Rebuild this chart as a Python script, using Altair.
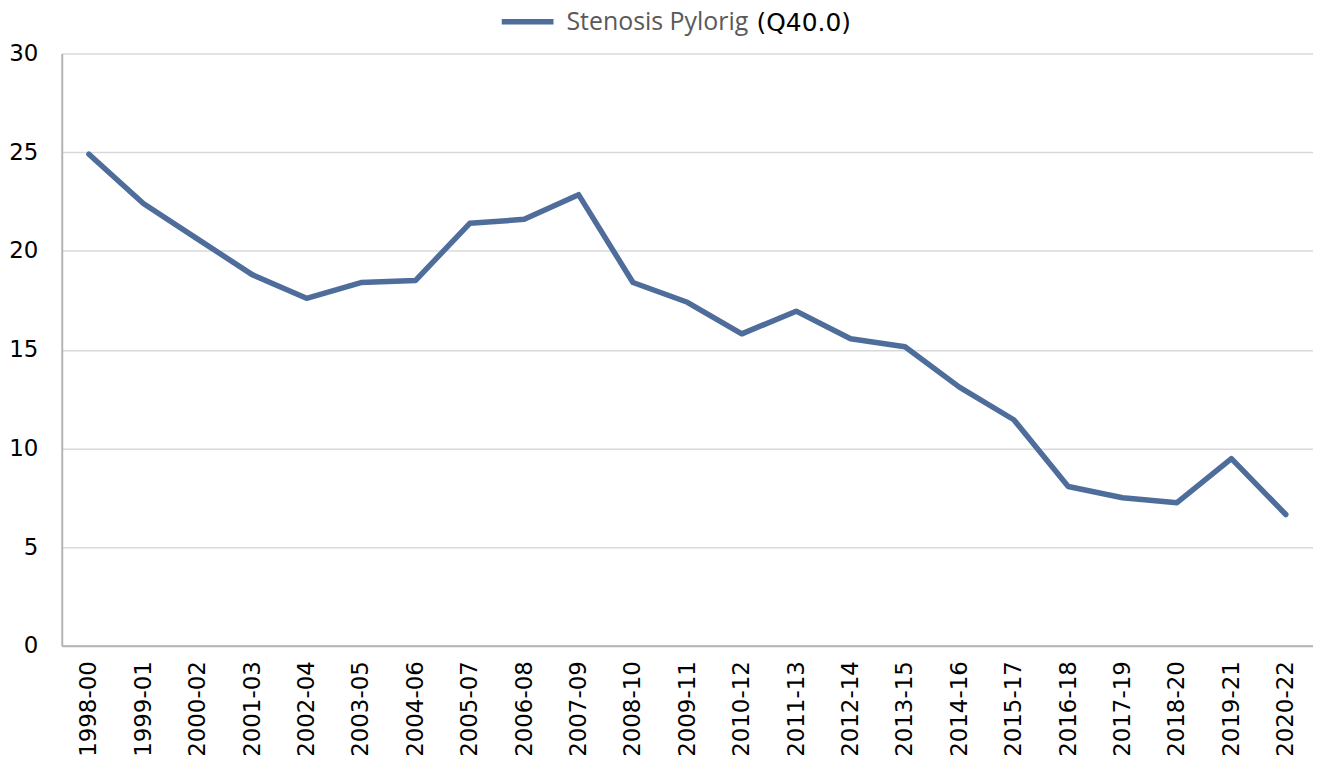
import altair as alt
import pandas as pd

periods = ["1998-00", "1999-01", "2000-02", "2001-03", "2002-04", "2003-05",
           "2004-06", "2005-07", "2006-08", "2007-09", "2008-10", "2009-11",
           "2010-12", "2011-13", "2012-14", "2013-15", "2014-16", "2015-17",
           "2016-18", "2017-19", "2018-20", "2019-21", "2020-22"]
values = [24.9, 22.4, 20.6, 18.8, 17.6, 18.4, 18.5, 21.4, 21.6, 22.85, 18.4,
          17.4, 15.8, 16.95, 15.55, 15.15, 13.1, 11.45, 8.07, 7.5, 7.25, 9.48, 6.65]
series_name = "Stenosis Pylorig"
code_label = "(Q40.0)"

df = pd.DataFrame({"period": periods, "value": values, "series": series_name})

FONT = "DejaVu Sans"
W, H = 1257, 595

line = alt.Chart(df).mark_line(strokeWidth=5.5, strokeJoin="round", strokeCap="round").encode(
    x=alt.X("period:N", sort=periods, title=None,
            scale=alt.Scale(type="point", padding=0.5),
            axis=alt.Axis(labelAngle=-90, ticks=False, labelPadding=15,
                          labelFont=FONT, labelFontSize=23, labelColor="#000000",
                          domainColor="#b3b3b3", domainWidth=2, grid=False,
                          labelBaseline="middle")),
    y=alt.Y("value:Q", title=None,
            scale=alt.Scale(domain=[0, 30], nice=False),
            axis=alt.Axis(values=[0, 5, 10, 15, 20, 25, 30], ticks=False, labelPadding=24,
                          labelFont=FONT, labelFontSize=23, labelColor="#000000",
                          domainColor="#b3b3b3", domainWidth=2,
                          gridColor="#d9d9d9", gridWidth=1.5)),
    color=alt.Color("series:N", scale=alt.Scale(range=["#4e6d9b"]),
                    legend=alt.Legend(title=None, orient="none", legendX=439, legendY=-61,
                                      symbolType="stroke", symbolSize=2704,
                                      symbolStrokeWidth=5.5, labelOffset=10,
                                      labelFont="Open Sans", labelFontSize=25,
                                      labelLimit=500,
                                      labelColor="#595959", padding=0))
)

code = alt.Chart(pd.DataFrame({"t": [code_label]})).mark_text(
    font=FONT, fontSize=25, color="#000000", align="left", baseline="middle"
).encode(x=alt.value(698), y=alt.value(-31), text="t:N")

chart = alt.layer(line, code).properties(
    width=W, height=H,
    autosize=alt.AutoSizeParams(type="none"),
    padding={"left": 54, "top": 44, "right": 0, "bottom": 111},
).configure_view(stroke=None)

chart.save("out.html", embed_options={"renderer": "svg", "actions": False})
